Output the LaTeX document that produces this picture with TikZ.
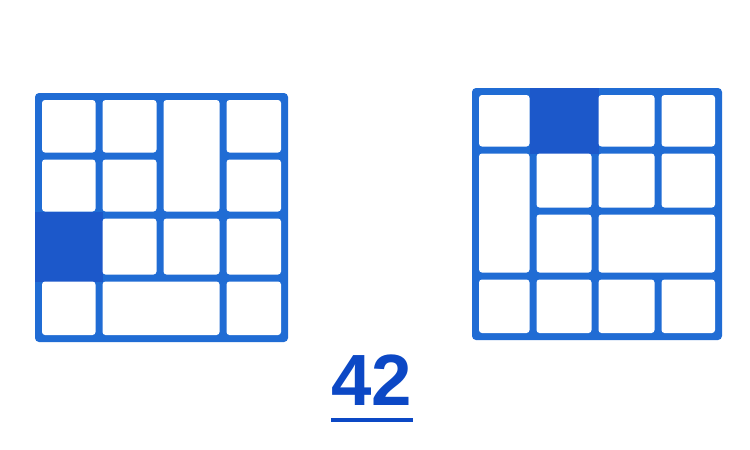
\documentclass[tikz,border=0pt]{standalone}
\usepackage{fontspec}
\setmainfont{Liberation Sans}
\definecolor{gridblue}{RGB}{32,108,212}
\definecolor{fillblue}{RGB}{28,88,202}
\definecolor{numblue}{RGB}{12,72,197}
\tikzset{
  cellwhite/.style={fill=white, rounded corners=3pt},
  frame/.style={fill=gridblue, rounded corners=4pt},
  shaded/.style={fill=fillblue},
  numtext/.style={inner sep=0pt, anchor=base, text=numblue, font=\fontsize{72.6}{80}\selectfont\bfseries},
  ulline/.style={draw=numblue, line width=4pt}
}
\newcommand\gcell[4]{\path[cellwhite] ({#1+3.5},{#2+3.5}) rectangle ({#3-3.5},{#4-3.5});}
\begin{document}
\begin{tikzpicture}[x=1pt,y=-1pt]
\useasboundingbox (0,0) rectangle (750,450);
\fill[white] (0,0) rectangle (750,450);
% ---------- left grid ----------
\path[frame] (35,93) rectangle (288,342);
\path[shaded] (35,211.5) rectangle (102.5,281.5);
\gcell{38.5}{96.5}{99}{156}
\gcell{99}{96.5}{160}{156}
\gcell{160}{96.5}{223}{215}
\gcell{223}{96.5}{284.5}{156}
\gcell{38.5}{156}{99}{215}
\gcell{99}{156}{160}{215}
\gcell{223}{156}{284.5}{215}
\gcell{99}{215}{160}{278}
\gcell{160}{215}{223}{278}
\gcell{223}{215}{284.5}{278}
\gcell{38.5}{278}{99}{338.5}
\gcell{99}{278}{223}{338.5}
\gcell{223}{278}{284.5}{338.5}
% ---------- right grid ----------
\path[frame] (472,88) rectangle (722,340);
\path[shaded] (529.5,88) rectangle (598.5,153.5);
\gcell{475.5}{91.5}{533}{150}
\gcell{595}{91.5}{658}{150}
\gcell{658}{91.5}{718.5}{150}
\gcell{475.5}{150}{533}{276}
\gcell{533}{150}{595}{211}
\gcell{595}{150}{658}{211}
\gcell{658}{150}{718.5}{211}
\gcell{533}{211}{595}{276}
\gcell{595}{211}{718.5}{276}
\gcell{475.5}{276}{533}{336.5}
\gcell{533}{276}{595}{336.5}
\gcell{595}{276}{658}{336.5}
\gcell{658}{276}{718.5}{336.5}
% ---------- number ----------
\node[numtext] (num) at (372,405) {42};
\draw[ulline] ([yshift=-15pt]num.south west) -- ([yshift=-15pt]num.south east);
\end{tikzpicture}
\end{document}
